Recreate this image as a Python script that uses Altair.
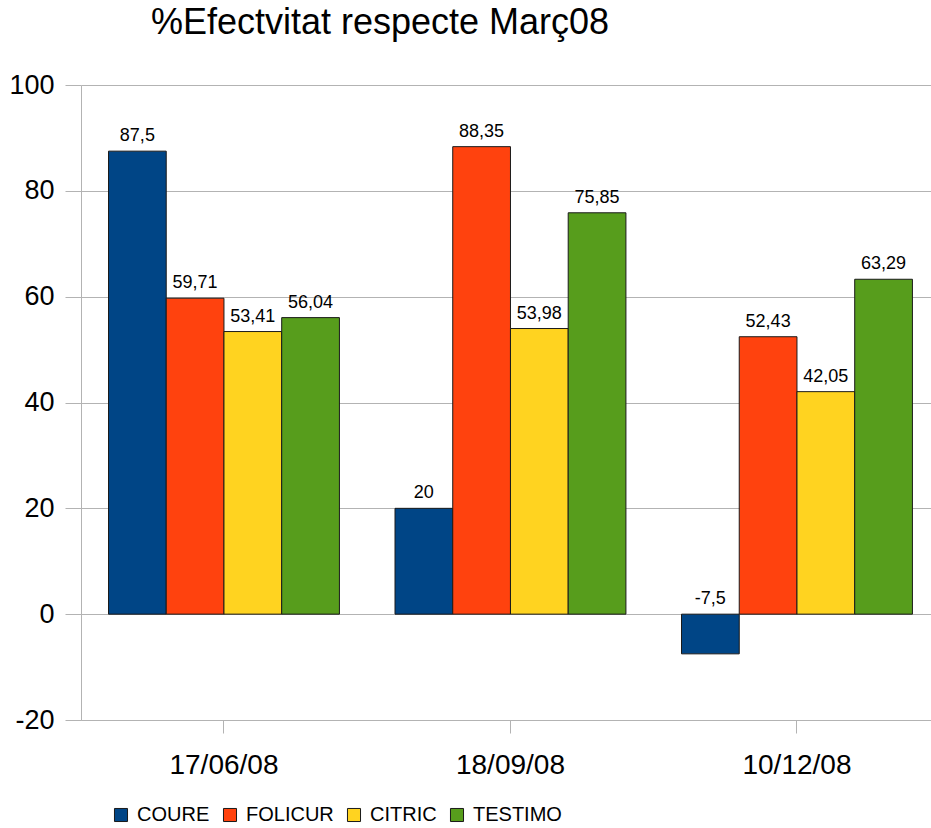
import altair as alt
import pandas as pd

dates = ["17/06/08", "18/09/08", "10/12/08"]
series = ["COURE", "FOLICUR", "CITRIC", "TESTIMO"]
coure = [87.5, 20, -7.5]
folicur = [59.71, 88.35, 52.43]
citric = [53.41, 53.98, 42.05]
testimo = [56.04, 75.85, 63.29]
colors = ["#004586", "#ff420e", "#ffd320", "#579d1c"]

rows = []
for s, vals in zip(series, [coure, folicur, citric, testimo]):
    for d, v in zip(dates, vals):
        rows.append({"date": d, "series": s, "value": v})
df = pd.DataFrame(rows)

FONT = "Liberation Sans"
grid = "#b3b3b3"

base = alt.Chart(df).encode(
    x=alt.X("date:N", sort=dates, title=None,
            scale=alt.Scale(paddingInner=0.194, paddingOuter=0.0804, align=0.597),
            axis=alt.Axis(labelAngle=0, labelFontSize=28, labelFont=FONT, labelColor="black",
                          domainColor=grid, tickColor=grid, tickSize=13, labelPadding=18,
                          grid=False)),
    xOffset=alt.XOffset("series:N", sort=series, scale=alt.Scale(paddingInner=0, paddingOuter=0)),
)

bars = base.mark_bar(stroke="#1a1a1a", strokeWidth=1).encode(
    y=alt.Y("value:Q", title=None,
            scale=alt.Scale(domain=[-20, 100], nice=False, zero=False),
            axis=alt.Axis(values=[-20, 0, 20, 40, 60, 80, 100], labelExpr="'' + datum.value",
                          labelFontSize=27, labelFont=FONT, labelColor="black",
                          grid=True, gridColor=grid, domainColor=grid, tickColor=grid,
                          tickSize=16, labelPadding=11)),
    color=alt.Color("series:N", sort=series, scale=alt.Scale(domain=series, range=colors),
                    legend=alt.Legend(title=None, orient="none", direction="horizontal",
                                      legendX=30, legendY=720, symbolType="square",
                                      symbolSize=170, symbolStrokeColor="#1a1a1a",
                                      symbolStrokeWidth=1, labelFontSize=20, labelFont=FONT,
                                      labelColor="black", columnPadding=10, labelOffset=6,
                                      padding=0)),
)

labels = base.transform_calculate(
    pos="max(datum.value, 0)",
    lab="replace(toString(datum.value), '.', ',')",
).mark_text(dy=-15, fontSize=18, font=FONT, color="black").encode(
    y=alt.Y("pos:Q"),
    text="lab:N",
)

chart = alt.layer(bars, labels).properties(
    width=850, height=635,
    title=alt.TitleParams("%Efectvitat respecte Març08", fontSize=36, font=FONT,
                          fontWeight="normal", anchor="middle", dx=-126, dy=-25,
                          color="black"),
    autosize=alt.AutoSizeParams(type="none"),
    padding={"left": 81, "top": 85, "right": 0, "bottom": 108},
).configure_view(stroke=None)

chart.save("out.html", embed_options={"renderer": "svg", "actions": False})
